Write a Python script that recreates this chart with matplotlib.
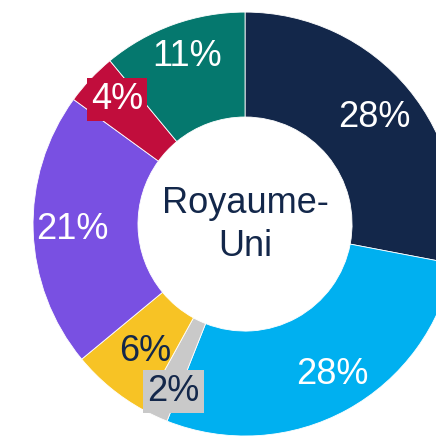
import matplotlib.pyplot as plt
import numpy as np

# parts of the donut, clockwise from the top
labels = ["28%", "28%", "2%", "6%", "21%", "4%", "11%"]
values = [28, 28, 2, 6, 21, 4, 11]
colors = ["#13274A", "#00B0F0", "#C9C9C9", "#F7C325", "#7950E2", "#C10D3C", "#05786E"]
text_colors = ["white", "white", "#13274A", "#13274A", "white", "white", "white"]
center_label = "Royaume-\nUni"

plt.rcParams['font.family'] = ['Liberation Sans', 'DejaVu Sans']

fig = plt.figure(figsize=(4.36, 4.36), dpi=100)
ax = fig.add_axes([0, 0, 1, 1])
wedges, _ = ax.pie(values, colors=colors, startangle=90, counterclock=False,
                   radius=1.0, wedgeprops=dict(width=0.495, edgecolor="white", linewidth=0.6))

# label placement: radius fraction and a small angle nudge (degrees)
cum = np.cumsum([0] + values)
label_r = [0.79, 0.82, 0.86, 0.765, 0.816, 0.842, 0.836]
shift = [0, 1.5, 2, 1.5, 0, -1, -0.7]
for i, lab in enumerate(labels):
    mid = 90 - 3.6 * (cum[i] + values[i] / 2) + shift[i]
    x = label_r[i] * np.cos(np.radians(mid))
    y = label_r[i] * np.sin(np.radians(mid))
    box = None
    if i in (2, 5):  # small slices get a box behind the text
        box = dict(boxstyle="square,pad=0.12", facecolor=colors[i], edgecolor="none")
    ax.text(x, y, lab, ha="center", va="center", fontsize=26, color=text_colors[i], bbox=box)

ax.text(0, -0.005, center_label, ha="center", va="center", fontsize=26,
        color="#13274A", linespacing=1.3)

ax.set_xlim(-1.156, 0.901)
ax.set_ylim(-1.0, 1.057)
ax.set_aspect("auto")
ax.axis("off")
fig.savefig("out.png", dpi=100)
